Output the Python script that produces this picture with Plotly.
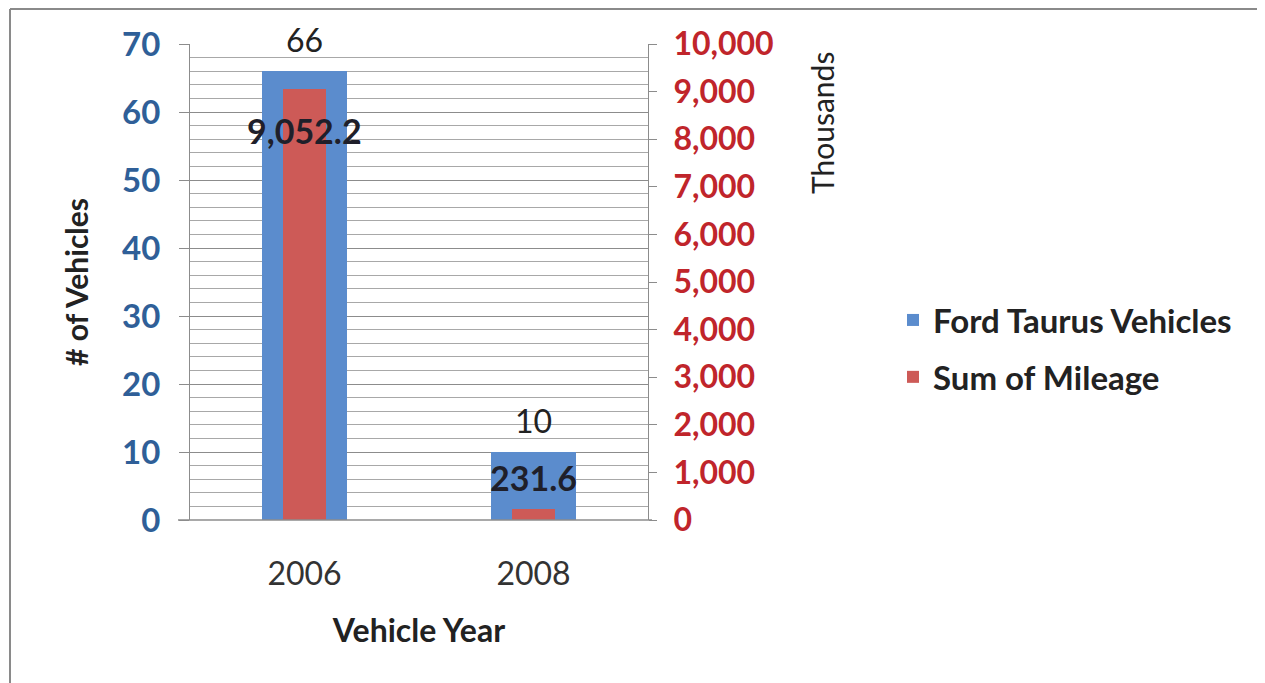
import plotly.graph_objects as go

categories = ["2006", "2008"]
vehicles = [66, 10]
mileage_thousands = [9052.2, 231.6]
vehicle_labels = ["66", "10"]
mileage_labels = ["9,052.2", "231.6"]
mileage_label_shift = [-41, 31]
left_ticks = [0, 10, 20, 30, 40, 50, 60, 70]
right_ticks = [0, 1000, 2000, 3000, 4000, 5000, 6000, 7000, 8000, 9000, 10000]
right_tick_text = ["0", "1,000", "2,000", "3,000", "4,000", "5,000", "6,000", "7,000", "8,000", "9,000", "10,000"]

BLUE = "#5b8ccd"
RED = "#cd5a57"
FONT = "Lato, 'Open Sans', sans-serif"

# page has an 8px body margin; work in page coordinates and convert
OFF = 8
W, H = 1265 - OFF, 683 - OFF
L, R, T, B = 190 - OFF, 648 - OFF, 44 - OFF, 520 - OFF

pw, ph = R - L, B - T
def px(x_page):
    return (x_page - OFF - L) / pw
def py(y_page):
    return (B - (y_page - OFF)) / ph

fig = go.Figure()
fig.add_trace(go.Bar(
    x=categories, y=vehicles, name="Ford Taurus Vehicles", legendgroup="a",
    marker=dict(color=BLUE, line=dict(width=0)), width=0.37, yaxis="y",
))
fig.add_trace(go.Bar(
    x=categories, y=mileage_thousands, name="Sum of Mileage", legendgroup="b",
    marker=dict(color=RED, line=dict(width=0)), width=0.185, yaxis="y2",
))

annotations = []
for i, (v, t) in enumerate(zip(vehicles, vehicle_labels)):
    annotations.append(dict(x=i, y=v, xref="x", yref="y", text=t, showarrow=False,
                            yshift=32, font=dict(family=FONT, size=32, color="#222222")))
for i, (v, t, s) in enumerate(zip(mileage_thousands, mileage_labels, mileage_label_shift)):
    annotations.append(dict(x=i, y=v, xref="x", yref="y2", text=t, showarrow=False,
                            yshift=s, font=dict(family=FONT, size=34, color="#1f1f2a", weight="bold")))

annotations.append(dict(x=px(822), y=py(123), xref="paper", yref="paper", text="Thousands",
                        textangle=-90, showarrow=False, xanchor="center", yanchor="middle",
                        font=dict(family=FONT, size=30, color="#222222")))

fig.update_layout(
    width=W, height=H,
    margin=dict(l=L, r=W - R, t=T, b=H - B),
    paper_bgcolor="white", plot_bgcolor="white",
    barmode="overlay", bargap=0,
    font=dict(family=FONT),
    showlegend=True,
    legend=dict(x=px(893), y=py(292), xanchor="left", yanchor="top",
                font=dict(family=FONT, size=33, color="#222222", weight="bold"),
                tracegroupgap=11, bgcolor="rgba(0,0,0,0)"),
    xaxis=dict(
        type="category", range=[-0.5, 1.5], showgrid=False, zeroline=False,
        showline=False, ticks="",
        tickfont=dict(family=FONT, size=32, color="#333333"),
        ticklabelstandoff=32,
        title=dict(text="<b>Vehicle Year</b>", font=dict(family=FONT, size=32, color="#222222"), standoff=28),
    ),
    yaxis=dict(
        range=[0, 70], tickvals=left_ticks, showgrid=True, gridcolor="#8c8c8c", gridwidth=1,
        minor=dict(dtick=2, showgrid=True, gridcolor="#a8a8a8", gridwidth=1),
        showline=True, linecolor="#8c8c8c", linewidth=1, ticks="outside", ticklen=10, tickcolor="#8c8c8c",
        zeroline=False,
        tickfont=dict(family=FONT, size=33, color="#2f5f98", weight="bold"),
        ticklabelstandoff=12,
        title=dict(text="<b># of Vehicles</b>", font=dict(family=FONT, size=30, color="#222222"), standoff=24),
    ),
    yaxis2=dict(
        range=[0, 10000], tickvals=right_ticks, ticktext=right_tick_text,
        overlaying="y", side="right", showgrid=False, zeroline=False,
        showline=True, linecolor="#8c8c8c", linewidth=1, ticks="outside", ticklen=8, tickcolor="#8c8c8c",
        tickfont=dict(family=FONT, size=32, color="#c0252b", weight="bold"),
        ticklabelstandoff=10,
    ),
    annotations=annotations,
    shapes=[
        dict(type="line", xref="paper", yref="paper", x0=px(178), x1=px(652), y0=0, y1=0,
             line=dict(color="#8c8c8c", width=1.5)),
        dict(type="line", xref="paper", yref="paper", x0=px(10), x1=px(1265), y0=py(9), y1=py(9),
             line=dict(color="#8a8a8a", width=2)),
        dict(type="line", xref="paper", yref="paper", x0=px(10), x1=px(10), y0=py(9), y1=py(683),
             line=dict(color="#8a8a8a", width=2)),
    ],
)

fig.write_html("out.html")
